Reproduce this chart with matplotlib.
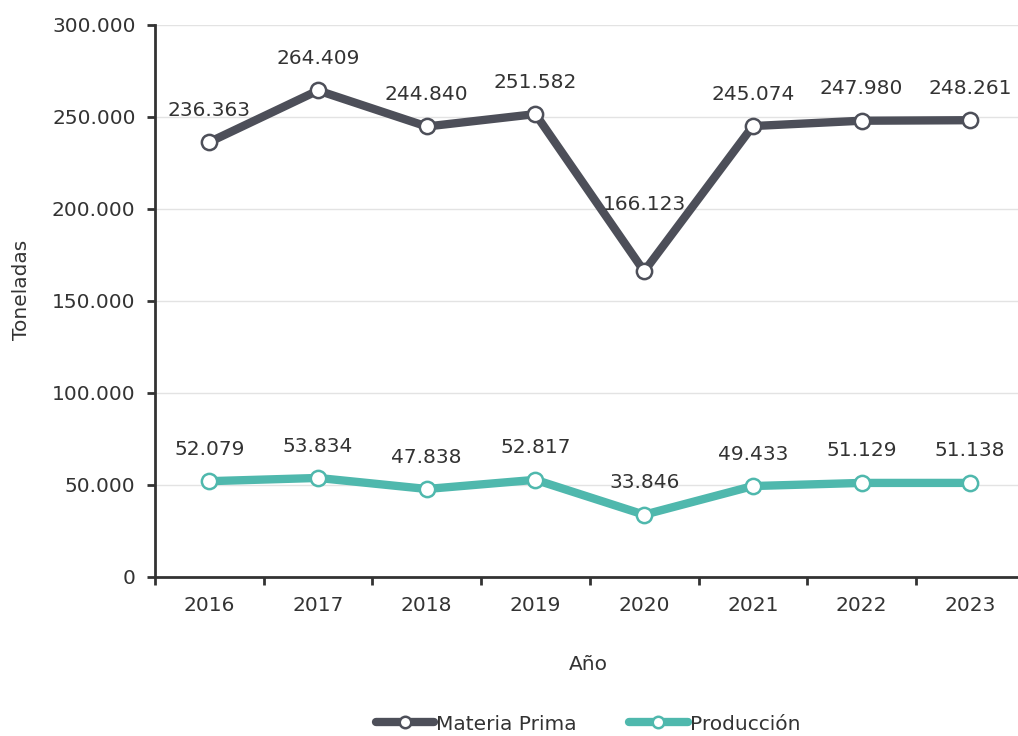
import matplotlib
matplotlib.use("Agg")
import matplotlib.pyplot as plt
from matplotlib.ticker import FuncFormatter, FixedLocator

years = ["2016", "2017", "2018", "2019", "2020", "2021", "2022", "2023"]
materia_prima = [236363, 264409, 244840, 251582, 166123, 245074, 247980, 248261]
produccion = [52079, 53834, 47838, 52817, 33846, 49433, 51129, 51138]
series_names = ["Materia Prima", "Producción"]
colors = ["#4d4f59", "#4fb8ad"]

plt.rcParams['font.family'] = ['DejaVu Sans']
text_color = "#333333"
FS = 14.5

W, H = 1018, 736
fig = plt.figure(figsize=(W / 100, H / 100), dpi=100)
left, right_px, top, bottom = 155, 155 + 8 * 108.7, 25, 577
ax = fig.add_axes([left / W, 1 - bottom / H, (right_px - left) / W, (bottom - top) / H])

x = list(range(len(years)))
for si, (vals, name, c) in enumerate(zip([materia_prima, produccion], series_names, colors)):
    ax.plot(x, vals, color=c, lw=6, marker='o', ms=11, mfc='white', mec=c,
            mew=1.8, label=name, solid_capstyle='round', zorder=3, clip_on=False)
    for xi, v in zip(x, vals):
        # push a label further up when the line climbs steeply on both sides (valley)
        off = 23
        if 0 < xi < len(vals) - 1 and vals[xi - 1] - v > 50000 and vals[xi + 1] - v > 50000:
            off = 48
        ax.annotate(f"{v:,}".replace(",", "."), (xi, v), xytext=(0, off),
                    textcoords='offset points', ha='center', va='center',
                    fontsize=FS, color=text_color)

ax.set_xlim(-0.5, 7.5)
ax.set_ylim(0, 300000)
ax.set_yticks(range(0, 300001, 50000))
ax.yaxis.set_major_formatter(FuncFormatter(lambda v, p: f"{int(v):,}".replace(",", ".")))
ax.grid(axis='y', color='#e3e3e3', lw=1)
ax.set_axisbelow(True)

ax.xaxis.set_major_locator(FixedLocator([i - 0.5 for i in range(9)]))
ax.xaxis.set_minor_locator(FixedLocator(x))
ax.set_xticklabels([])
ax.set_xticklabels(years, minor=True)
ax.tick_params(axis='x', which='major', length=6, width=2, color='#333333', direction='out')
ax.tick_params(axis='x', which='minor', length=0, pad=14, labelsize=FS, labelcolor=text_color)
ax.tick_params(axis='y', length=6, width=2, color='#333333', labelsize=FS, labelcolor=text_color, pad=8)

for s in ['top', 'right']:
    ax.spines[s].set_visible(False)
for s in ['left', 'bottom']:
    ax.spines[s].set_color('#333333')
    ax.spines[s].set_linewidth(2)

fig.text(22 / W, 1 - 290 / H, "Toneladas", rotation=90, ha='center', va='center',
         fontsize=FS, color=text_color)
fig.text(588 / W, 1 - 664 / H, "Año", ha='center', va='center', fontsize=FS, color=text_color)

leg = fig.legend(loc='center', bbox_to_anchor=(588 / W, 1 - 724 / H), ncol=2, frameon=False,
                 fontsize=FS, handlelength=2.9, handletextpad=0.1, columnspacing=2.6,
                 markerscale=0.75)
for t in leg.get_texts():
    t.set_color(text_color)

fig.savefig("out.png", dpi=100)
